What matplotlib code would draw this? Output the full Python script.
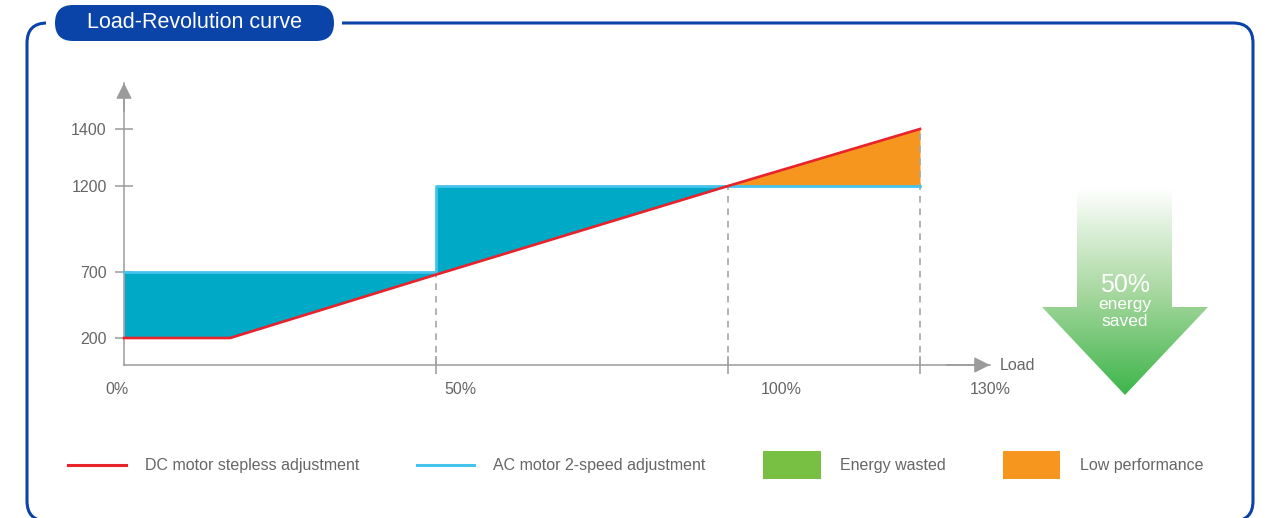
import numpy as np
import matplotlib
matplotlib.use('Agg')
import matplotlib.pyplot as plt
from matplotlib.patches import FancyBboxPatch, Polygon, Rectangle, Patch
from matplotlib.lines import Line2D
from matplotlib.colors import LinearSegmentedColormap

plt.rcParams['font.family'] = ['Liberation Sans', 'DejaVu Sans']

# load (%) vs. revolution (rpm)
load_pts = [0, 17, 50, 50, 100, 130]
dc_rpm = [200, 200, 680, 680, 1200, 1400]      # DC motor, stepless
ac_rpm = [700, 700, 700, 1200, 1200, 1200]     # AC motor, 2 speeds
rpm_ticks = [200, 700, 1200, 1400]
load_ticks = [0, 50, 100, 130]
load_labels = ['0%', '50%', '100%', '130%']
legend_labels = ['DC motor stepless adjustment', 'AC motor 2-speed adjustment',
                 'Energy wasted', 'Low performance']
saved_text = '50%'

W, H = 1269, 518
RED = '#e8232b'
CYAN = '#45c3ec'
TEAL = '#00a9c5'
ORANGE = '#f7961f'
GREEN = '#77c043'
NAVY = '#0b44a8'
GRAY = '#9b9b9b'
TXT = '#666666'

# the axes are not evenly spaced, so use piecewise-linear scales
x_knots = [-1000, 0, 50, 100, 130, 1000]
x_px = [-6240, 0, 312, 604, 796, 796 + 870 * 6.4]
y_knots = [-1000, 0, 200, 700, 1200, 1400, 5000]
y_px = [-135, 0, 27, 93, 179, 236, 236 + 3600 * 0.285]


def x_fwd(v):
    return np.interp(v, x_knots, x_px)


def x_inv(p):
    return np.interp(p, x_px, x_knots)


def y_fwd(v):
    return np.interp(v, y_knots, y_px)


def y_inv(p):
    return np.interp(p, y_px, y_knots)


def fy(y):
    # pixel row (from top) -> deco y
    return H - y


fig = plt.figure(figsize=(W / 100, H / 100), dpi=100)

# ---- frame, title, big arrow (pixel coordinates) ----
deco = fig.add_axes([0, 0, 1, 1], zorder=0)
deco.set_axis_off()
deco.set_xlim(0, W)
deco.set_ylim(0, H)

frame = FancyBboxPatch((27, fy(521)), 1226, 498, boxstyle='round,pad=0,rounding_size=20',
                       fc='none', ec=NAVY, lw=2.2, clip_on=False)
deco.add_patch(frame)
deco.add_patch(Rectangle((46, fy(31)), 296, 18, fc='white', ec='none'))
deco.add_patch(FancyBboxPatch((55, fy(41)), 279, 36, boxstyle='round,pad=0,rounding_size=18',
                              fc=NAVY, ec='none'))
deco.text(194.5, fy(23), 'Load-Revolution curve', color='white', fontsize=15.5,
          ha='center', va='center')

arrow_xy = [(1077, 188), (1172, 188), (1172, 307), (1208, 307),
            (1125, 395), (1042, 307), (1077, 307)]
arrow = Polygon([(x, fy(y)) for x, y in arrow_xy], closed=True, fc='none', ec='none')
deco.add_patch(arrow)
cmap = LinearSegmentedColormap.from_list('fade', ['#ffffff', '#a8d8a0', '#3db54a'])
grad = np.linspace(0, 1, 256).reshape(-1, 1)
im = deco.imshow(grad, cmap=cmap, extent=[1042, 1208, fy(395), fy(188)], aspect='auto',
                 interpolation='bilinear')
im.set_clip_path(arrow)
deco.text(1125, fy(285), saved_text, color='white', fontsize=18, ha='center', va='center')
deco.text(1125, fy(304), 'energy', color='white', fontsize=12.5, ha='center', va='center')
deco.text(1125, fy(322), 'saved', color='white', fontsize=12.5, ha='center', va='center')
deco.set_xlim(0, W)
deco.set_ylim(0, H)

# ---- main chart ----
ax = fig.add_axes([124 / W, (H - 365) / H, 866 / W, 282 / H], zorder=1)
ax.set_facecolor('none')
ax.set_xscale('function', functions=(x_fwd, x_inv))
ax.set_yscale('function', functions=(y_fwd, y_inv))

dc = np.array(dc_rpm)
ac = np.array(ac_rpm)
ax.fill_between(load_pts, dc, ac, where=ac >= dc, interpolate=True,
                color=TEAL, lw=0, zorder=1)
ax.fill_between(load_pts, dc, ac, where=dc >= ac, interpolate=True,
                color=ORANGE, lw=0, zorder=1)

# dashed guides up to the DC curve
tops = [np.interp(v, load_pts, dc_rpm) for v in load_ticks[1:]]
ax.vlines(load_ticks[1:], 0, tops, colors='#a6a6a6', linestyles=(0, (4, 3.5)),
          lw=1.2, zorder=2)

ax.plot(load_pts, ac_rpm, color=CYAN, lw=2, zorder=3, clip_on=False)
ax.plot(load_pts, dc_rpm, color=RED, lw=1.9, zorder=4, clip_on=False)

ax.set_xlim(0, x_inv(866))
ax.set_ylim(0, y_inv(282))

for s in ['top', 'right']:
    ax.spines[s].set_visible(False)
for s in ['left', 'bottom']:
    ax.spines[s].set_color(GRAY)
    ax.spines[s].set_linewidth(1.1)

ax.set_yticks(rpm_ticks)
ax.set_yticklabels([str(v) for v in rpm_ticks])
ax.set_xticks(load_ticks[1:])
ax.set_xticklabels([])
ax.tick_params(axis='both', direction='inout', length=13, width=1.1, color=GRAY)
ax.tick_params(axis='y', labelsize=11.5, labelcolor=TXT, pad=6)

# arrow heads on the axes
head = dict(arrowstyle='-|>,head_length=0.6,head_width=0.3', color=GRAY, lw=1.1,
            mutation_scale=16, shrinkA=0, shrinkB=0)
ax.annotate('', xy=(0, 1), xytext=(0, 0.9), xycoords='axes fraction', arrowprops=head)
ax.annotate('', xy=(1, 0), xytext=(0.95, 0), xycoords='axes fraction', arrowprops=head)
ax.annotate('Load', xy=(1, 0), xycoords='axes fraction', xytext=(10, 0),
            textcoords='offset pixels', ha='left', va='center', fontsize=11.5, color=TXT)

# load labels sit a little right of their guide lines
label_dx = [-7, 24, 53, 70]
for v, s, dx in zip(load_ticks, load_labels, label_dx):
    ax.annotate(s, xy=(v, 0), xycoords=('data', 'axes fraction'), xytext=(dx, -24),
                textcoords='offset pixels', ha='center', va='center',
                fontsize=11.5, color=TXT)

handles = [Line2D([], [], color=RED, lw=2.2), Line2D([], [], color=CYAN, lw=2.2),
           Patch(fc=GREEN), Patch(fc=ORANGE)]
leg = fig.legend(handles, legend_labels, loc='center left',
                 bbox_to_anchor=(68 / W, 1 - 465 / H), ncol=4, frameon=False,
                 fontsize=11.5, handlelength=3.6, handleheight=2.4,
                 handletextpad=1.2, columnspacing=3.6, borderaxespad=0, borderpad=0)
for t in leg.get_texts():
    t.set_color(TXT)
# tall handle boxes push the line samples up; bring them back to mid-height
for ln in leg.get_lines():
    ln.set_ydata(np.asarray(ln.get_ydata()) - 3.6)

fig.savefig('out.png', dpi=100)
